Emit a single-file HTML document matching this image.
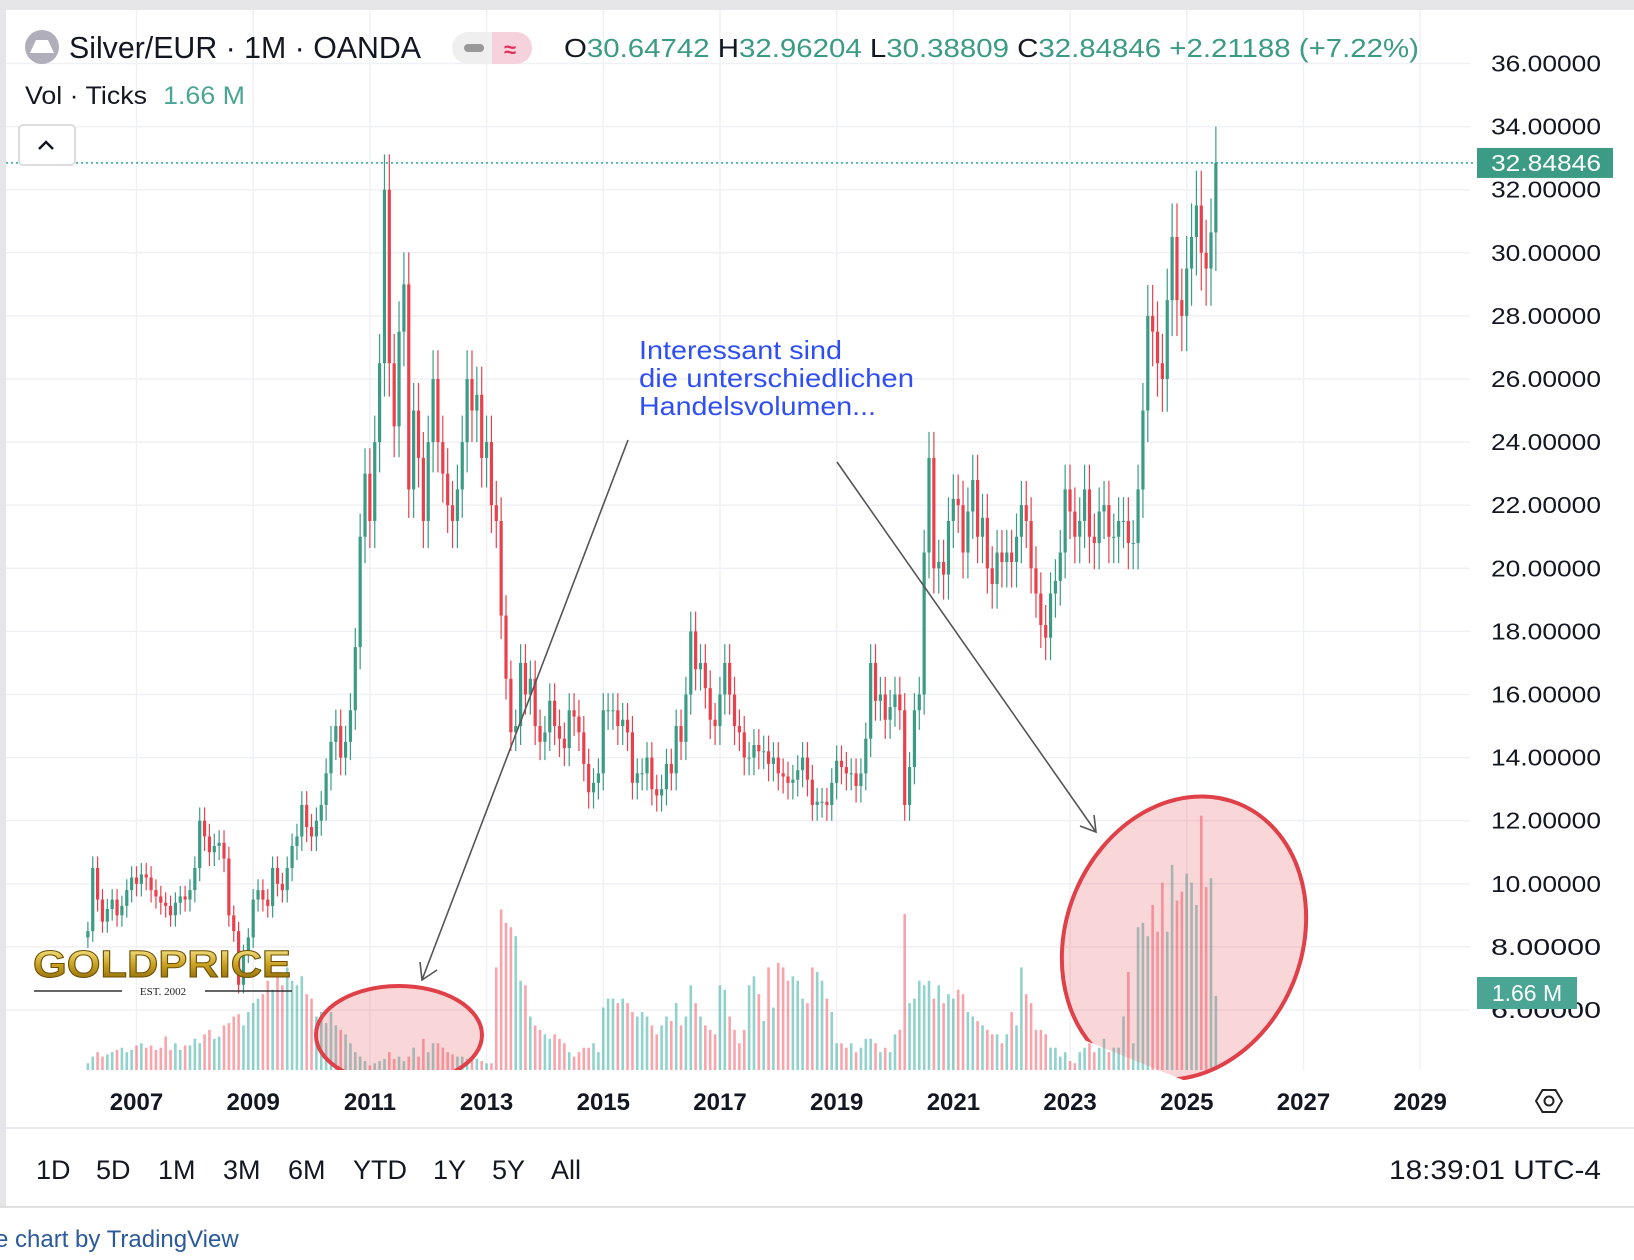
<!DOCTYPE html>
<html><head><meta charset="utf-8"><style>
html,body{margin:0;padding:0;background:#fff;}
svg{display:block;font-family:"Liberation Sans",sans-serif;}
</style></head><body>
<svg id="chart" width="1634" height="1260" viewBox="0 0 1634 1260" xmlns="http://www.w3.org/2000/svg">
<rect x="0" y="0" width="1634" height="1260" fill="#fff"/>
<rect x="0" y="0" width="1634" height="10" fill="#e6e6e8"/>
<rect x="0" y="0" width="6" height="1207" fill="#e6e6e8"/>
<g id="grid"></g>
<g id="vol"></g>
<g id="candles"></g>
<g>
<ellipse cx="399" cy="1035" rx="83" ry="49" fill="rgba(230,90,100,0.25)" stroke="#e04048" stroke-width="4" clip-path="url(#clipv)"/>
<ellipse cx="1184" cy="938" rx="118" ry="145" transform="rotate(22 1184 938)" fill="rgba(230,90,100,0.25)" stroke="#e04048" stroke-width="4" clip-path="url(#clipv)"/>
<line x1="628" y1="440" x2="422" y2="980" stroke="#555" stroke-width="1.6"/>
<polyline points="420,962 422,980 437,970" fill="none" stroke="#555" stroke-width="1.6"/>
<line x1="837" y1="462" x2="1096" y2="832" stroke="#555" stroke-width="1.6"/>
<polyline points="1080,826 1096,832 1094,815" fill="none" stroke="#555" stroke-width="1.6"/>
<text x="639" y="359" font-size="26" fill="#2f4ff5" textLength="203" lengthAdjust="spacingAndGlyphs">Interessant sind</text>
<text x="639" y="387" font-size="26" fill="#2f4ff5" textLength="275" lengthAdjust="spacingAndGlyphs">die unterschiedlichen</text>
<text x="639" y="415" font-size="26" fill="#2f4ff5" textLength="237" lengthAdjust="spacingAndGlyphs">Handelsvolumen...</text>
</g>
<defs>
<clipPath id="clipv"><rect x="0" y="0" width="1470" height="1070"/></clipPath>
<linearGradient id="gold" x1="0" y1="0" x2="0" y2="1"><stop offset="0" stop-color="#fff3a0"/><stop offset="0.5" stop-color="#c9a020"/><stop offset="1" stop-color="#7a5a05"/></linearGradient>
</defs>
<g>
<text x="33" y="977" font-size="38" font-weight="bold" fill="url(#gold)" stroke="#6b4e00" stroke-width="1" textLength="258" lengthAdjust="spacingAndGlyphs">GOLDPRICE</text>
<line x1="34" y1="991" x2="122" y2="991" stroke="#333" stroke-width="1.5"/>
<line x1="205" y1="991" x2="292" y2="991" stroke="#333" stroke-width="1.5"/>
<text x="163" y="995" font-size="11" font-family="Liberation Serif,serif" text-anchor="middle" fill="#222">EST. 2002</text>
</g>
<g id="yaxis"></g>
<line id="lastline" x1="6" x2="1476" stroke="#26a69a" stroke-width="1.5" stroke-dasharray="2,3"/>
<g><rect id="lastbox" x="1477" width="136" height="30" fill="#3b9b84"/><text id="lasttxt" x="1491" font-size="23" fill="#fff" textLength="110" lengthAdjust="spacingAndGlyphs">32.84846</text></g>
<g><rect x="1477" y="977" width="100" height="32" fill="#4aa595"/><text x="1527" y="1001" font-size="23" fill="#fff" text-anchor="middle">1.66 M</text></g>
<g id="xaxis"></g>
<g transform="translate(1549,1101)"><polygon points="-13,0 -6.5,-11 6.5,-11 13,0 6.5,11 -6.5,11" fill="none" stroke="#222" stroke-width="2"/><circle r="4.5" fill="none" stroke="#222" stroke-width="2"/></g>
<g>
<circle cx="42" cy="47" r="17" fill="#b0aebb"/>
<polygon points="36,40 48,40 54,53 30,53" fill="#fff"/>
<text x="69" y="58" font-size="31" fill="#131722" textLength="352" lengthAdjust="spacingAndGlyphs">Silver/EUR · 1M · OANDA</text>
<rect x="452" y="32" width="80" height="32" rx="16" fill="#efefef"/>
<path d="M492,32 h24 a16,16 0 0 1 0,32 h-24 z" fill="#f6d2dc"/>
<rect x="464" y="44" width="20" height="8" rx="4" fill="#999"/>
<text x="510" y="57" font-size="22" fill="#e0305a" text-anchor="middle" font-weight="bold">≈</text>
<text x="564" y="57" font-size="26" fill="#3b9b84" textLength="855" lengthAdjust="spacingAndGlyphs"><tspan fill="#131722">O</tspan>30.64742 <tspan fill="#131722">H</tspan>32.96204 <tspan fill="#131722">L</tspan>30.38809 <tspan fill="#131722">C</tspan>32.84846 +2.21188 (+7.22%)</text>
<text x="25" y="104" font-size="25" fill="#131722" textLength="220" lengthAdjust="spacingAndGlyphs">Vol · Ticks <tspan fill="#4aa595" dx="8">1.66 M</tspan></text>
<rect x="19" y="125" width="56" height="40" rx="4" fill="#fff" stroke="#ddd" stroke-width="2"/>
<polyline points="39,149 46,142 53,149" fill="none" stroke="#131722" stroke-width="2.5"/>
</g>
<line x1="6" y1="1128" x2="1634" y2="1128" stroke="#e0e3eb" stroke-width="1.5"/>
<g font-size="27" fill="#131722">
<text x="36" y="1179">1D</text>
<text x="96" y="1179">5D</text>
<text x="158" y="1179">1M</text>
<text x="223" y="1179">3M</text>
<text x="288" y="1179">6M</text>
<text x="353" y="1179">YTD</text>
<text x="433" y="1179">1Y</text>
<text x="492" y="1179">5Y</text>
<text x="551" y="1179">All</text>
<text x="1389" y="1179" textLength="212" lengthAdjust="spacingAndGlyphs">18:39:01 UTC-4</text>
</g>
<line x1="0" y1="1207" x2="1634" y2="1207" stroke="#d6d6d6" stroke-width="1.5"/>
<text x="-5" y="1247" font-size="24" fill="#2a5a9a">e chart by TradingView</text>
</svg>
<script>
const yearLabels=["2007","2009","2011","2013","2015","2017","2019","2021","2023","2025","2027","2029"];
const priceTicks=[36,34,32,30,28,26,24,22,20,18,16,14,12,10,8,6];
const closes=[
8.5,10.5,9.5,8.8,9.2,9.5,9.0,9.3,9.8,10.2,
10.0,10.3,10.2,9.8,9.6,9.4,9.3,9.0,9.4,9.6,9.5,9.8,
10.5,12.0,11.5,11.0,11.2,11.3,10.8,9.0,8.5,6.8,7.8,8.3,
9.5,9.8,9.5,9.3,10.5,10.0,9.8,10.5,11.2,11.5,12.5,11.8,
11.5,12.0,12.5,13.5,14.5,15.0,14.0,14.5,15.5,17.5,21.0,23.0,
21.5,24.0,26.5,32.0,26.5,24.5,27.5,29.0,22.5,25.0,23.5,21.5,
24.0,26.0,24.0,23.0,22.0,21.5,22.5,24.0,26.0,25.0,25.5,23.5,
24.0,22.0,21.5,18.5,16.5,14.8,15.0,17.0,16.0,16.5,15.0,14.5,
14.8,15.8,15.0,14.6,14.3,15.5,15.3,14.8,13.8,12.9,13.2,13.5,
15.5,15.5,15.5,15.0,15.2,14.8,13.2,13.5,13.5,14.0,13.0,12.8,
13.0,13.8,13.5,15.0,14.5,16.0,18.0,16.8,17.0,16.2,15.2,15.0,
16.0,17.0,16.0,15.0,14.8,14.0,14.0,14.4,14.2,14.2,13.8,14.0,
13.5,13.4,13.2,13.3,13.6,14.0,13.3,12.5,12.6,12.6,12.5,13.2,
13.9,13.7,13.5,13.5,13.1,13.5,14.6,17.0,15.8,16.0,15.2,15.6,
16.0,15.5,12.5,13.7,15.5,16.0,20.5,23.5,20.0,20.2,19.8,21.5,
22.2,22.0,20.5,21.8,22.8,21.0,21.6,20.0,19.5,20.5,20.2,20.5,
20.2,21.0,22.0,21.5,20.0,19.2,18.2,17.8,19.2,19.6,20.5,22.5,
21.8,21.0,21.5,22.5,21.0,20.8,21.8,22.0,21.0,21.0,21.5,21.5,
20.8,20.8,22.5,25.0,28.0,27.5,26.5,26.0,28.5,30.5,28.5,28.0,
29.5,30.5,31.5,30.0,29.5,30.64742,32.84846];
const volumes=[
.15,.3,.4,.3,.35,.4,.45,.5,.4,.45,
.55,.6,.5,.55,.45,.5,.75,.45,.6,.45,.55,.55,
.7,.6,.8,.9,.7,.75,1.0,1.05,1.2,1.25,1.0,1.3,
1.5,1.6,1.7,2.0,1.8,2.2,1.9,2.3,2.0,1.9,2.1,1.7,
1.6,1.2,1.3,1.05,1.3,1.0,0.9,0.8,0.6,0.4,0.3,0.2,
.1,.15,.2,.25,.4,.25,.3,.2,.3,.5,.3,.7,
.4,.6,.6,.5,.4,.35,.3,.3,.25,.3,.25,.2,
.15,.15,2.3,3.6,3.3,3.2,3.0,2.0,1.9,1.2,1.0,0.9,
.8,.7,.8,.7,.6,.4,.3,.4,.5,.5,.6,.4,
1.4,1.6,1.6,1.5,1.6,1.5,1.3,1.2,1.3,1.2,1.0,0.8,
1.0,1.2,1.1,1.5,1.0,1.2,1.9,1.5,1.2,1.0,0.9,0.8,
1.9,1.8,1.2,0.9,0.6,0.9,1.9,2.1,1.7,1.1,2.3,1.4,
2.4,2.3,2.0,2.1,2.0,1.6,1.5,2.3,2.2,2.0,1.6,1.3,
.6,.6,.5,.6,.4,.5,.7,.7,.6,.4,.5,.4,
.8,.9,3.5,1.5,1.6,2.0,1.9,2.0,1.6,1.9,1.5,1.7,
1.6,1.8,1.7,1.3,1.2,1.1,1.0,0.9,0.8,0.8,0.6,0.8,
1.3,1.0,2.3,1.7,1.5,0.9,0.9,0.8,0.5,0.5,0.3,0.4,
.2,.15,.4,.5,.6,.4,.5,.7,.4,.5,.5,1.2,
2.2,.6,3.2,3.3,3.0,3.7,3.1,4.2,3.1,4.6,3.8,4.0,
4.4,4.2,3.7,5.7,4.1,4.3,1.66];
const firstOpen=8.3;
const NS="http://www.w3.org/2000/svg";
const GREEN="#3b9b84",RED="#e8414d";
function yP(p){return 63.5+(36-p)*31.55;}
function xI(i){return 136.5+(i-10)*4.862;}
function yV(v){return 1070-v*44.6;}
function mk(tag,attrs,parent){const e=document.createElementNS(NS,tag);for(const k in attrs)e.setAttribute(k,attrs[k]);parent.appendChild(e);return e;}
const grid=document.getElementById('grid'),yax=document.getElementById('yaxis'),xax=document.getElementById('xaxis');
priceTicks.forEach(p=>{
  const l=mk('line',{x1:6,x2:1470,y1:yP(p),y2:yP(p),stroke:'#f0f1f4','stroke-width':1.5},grid);
  
  
  const t=mk('text',{x:1491,y:yP(p)+8,'font-size':23,fill:'#131722',textLength:110,lengthAdjust:'spacingAndGlyphs'},yax);
  
  
  t.textContent=p.toFixed(5);
});
yearLabels.forEach((yr,k)=>{
  const x=136.5+k*116.7;
  const l=mk('line',{x1:x,x2:x,y1:10,y2:1070,stroke:'#f0f1f4','stroke-width':1.5},grid);
  
  
  const t=mk('text',{x:x,y:1110,'font-size':24,'font-weight':'bold',fill:'#131722','text-anchor':'middle'},xax);
  
  
  t.textContent=yr;
});
const vg=document.getElementById('vol'),cg=document.getElementById('candles');
closes.forEach((c,i)=>{
  const o=i===0?firstOpen:closes[i-1];
  const up=c>=o,col=up?GREEN:RED;
  const x=xI(i);
  const v=mk('rect',{x:x-1.3,y:yV(volumes[i]),width:2.6,height:1070-yV(volumes[i]),fill:up?'rgba(38,166,154,0.5)':'rgba(242,54,69,0.45)'},vg);
  
  
  const hi=Math.max(o,c)*1.035,lo=Math.min(o,c)*0.96;
  const w=mk('line',{x1:x,x2:x,y1:yP(hi),y2:yP(lo),stroke:col,'stroke-width':1.2},cg);
  
  
  const top=yP(Math.max(o,c)),bot=yP(Math.min(o,c));
  const b=mk('rect',{x:x-1.6,y:top,width:3.2,height:Math.max(1,bot-top),fill:col},cg);
  
  
});
const last=closes[closes.length-1];
document.getElementById('lastline').setAttribute('y1',yP(last));
document.getElementById('lastline').setAttribute('y2',yP(last));
document.getElementById('lastbox').setAttribute('y',yP(last)-15);
document.getElementById('lasttxt').setAttribute('y',yP(last)+8);
</script>
</body></html>
